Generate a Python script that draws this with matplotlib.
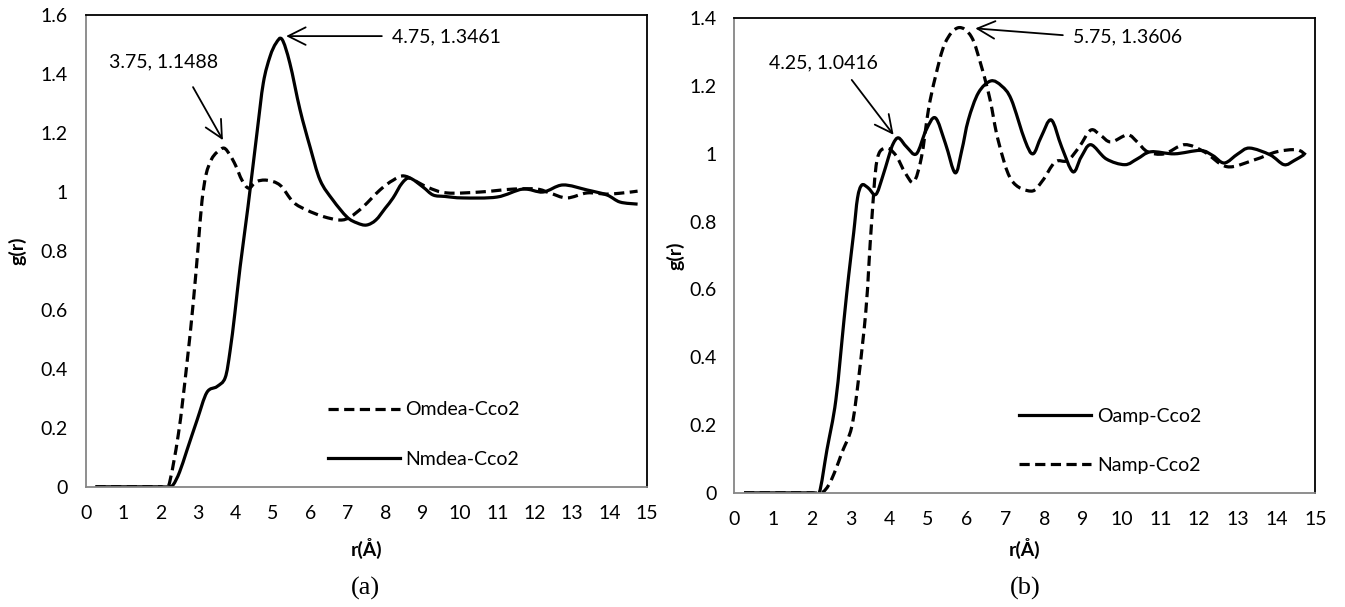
import matplotlib
matplotlib.use("Agg")
import matplotlib.pyplot as plt
import numpy as np
from matplotlib.path import Path
from matplotlib.patches import PathPatch

plt.rcParams['font.family'] = ['Lato', 'DejaVu Sans']
plt.rcParams['font.size'] = 14

# panel (a): MDEA
r_omdea = [0.25, 0.5, 1.0, 1.5, 2.0, 2.2, 2.47, 2.69, 2.87, 3.0, 3.1, 3.21, 3.35, 3.5, 3.69,
           3.85, 4.0, 4.17, 4.35, 4.55, 4.84, 5.19, 5.54, 5.9, 6.34, 6.79, 7.06, 7.41, 7.86,
           8.21, 8.53, 9.12, 9.65, 10.53, 11.42, 12.06, 12.4, 12.86, 13.4, 13.93, 14.36, 14.75]
g_omdea = [0, 0, 0, 0, 0, 0, 0.18, 0.41, 0.63, 0.82, 0.97, 1.06, 1.11, 1.135, 1.149,
           1.125, 1.09, 1.04, 1.013, 1.035, 1.04, 1.023, 0.966, 0.939, 0.917, 0.905, 0.915, 0.95, 1.007,
           1.04, 1.054, 1.017, 0.997, 1.0, 1.01, 1.01, 0.997, 0.98, 0.997, 0.993, 0.997, 1.003]

r_nmdea = [0.25, 0.5, 1.0, 1.5, 2.0, 2.2, 2.33, 2.5, 2.7, 2.97, 3.23, 3.5, 3.72, 3.85, 3.98,
           4.12, 4.33, 4.57, 4.74, 4.92, 5.08, 5.24, 5.45, 5.72, 5.99, 6.26, 6.6, 6.98, 7.25,
           7.5, 7.75, 8.0, 8.21, 8.45, 8.66, 9.01, 9.28, 9.6, 10.08, 10.99, 11.68, 12.22, 12.75,
           13.4, 13.93, 14.28, 14.75]
g_nmdea = [0, 0, 0, 0, 0, 0, 0.007, 0.05, 0.125, 0.227, 0.32, 0.34, 0.37, 0.46, 0.59,
           0.746, 0.95, 1.2, 1.37, 1.46, 1.505, 1.518, 1.437, 1.28, 1.153, 1.04, 0.973, 0.915, 0.895,
           0.888, 0.905, 0.945, 0.98, 1.03, 1.047, 1.017, 0.99, 0.985, 0.98, 0.983, 1.01, 1.0, 1.024,
           1.007, 0.99, 0.966, 0.959]

# panel (b): AMP
r_oamp = [0.25, 1.0, 2.0, 2.19, 2.39, 2.62, 2.83, 2.95, 3.08, 3.18, 3.29, 3.45, 3.65, 3.82,
          3.98, 4.1, 4.24, 4.45, 4.7, 4.95, 5.19, 5.45, 5.7, 5.87, 6.04, 6.3, 6.62, 6.9,
          7.15, 7.5, 7.71, 7.92, 8.18, 8.45, 8.74, 8.95, 9.2, 9.6, 10.08, 10.4, 10.75, 11.36,
          12.03, 12.35, 12.65, 13.0, 13.3, 13.83, 14.19, 14.45, 14.7]
g_oamp = [0, 0, 0, 0, 0.127, 0.274, 0.51, 0.64, 0.767, 0.87, 0.908, 0.9, 0.88, 0.93,
          0.99, 1.03, 1.047, 1.02, 1.0, 1.07, 1.106, 1.03, 0.944, 1.01, 1.1, 1.18, 1.215, 1.2,
          1.16, 1.04, 1.0, 1.05, 1.10, 1.02, 0.947, 0.99, 1.027, 0.985, 0.968, 0.985, 1.006, 1.0,
          1.01, 0.995, 0.973, 1.0, 1.017, 0.997, 0.968, 0.98, 0.997]

r_namp = [0.25, 1.0, 2.0, 2.25, 2.44, 2.62, 2.78, 3.03, 3.21, 3.39, 3.47, 3.55, 3.68, 3.9,
          4.16, 4.41, 4.63, 4.83, 5.01, 5.19, 5.44, 5.78, 6.12, 6.38, 6.6, 6.81, 7.15, 7.66,
          7.95, 8.28, 8.6, 8.9, 9.2, 9.45, 9.72, 10.15, 10.4, 10.67, 11.1, 11.62, 12.13, 12.72,
          13.42, 14.0, 14.52, 14.75]
g_namp = [0, 0, 0, 0, 0.024, 0.07, 0.12, 0.195, 0.34, 0.53, 0.667, 0.81, 0.98, 1.017,
          0.997, 0.944, 0.917, 0.99, 1.13, 1.227, 1.327, 1.372, 1.345, 1.257, 1.16, 1.04, 0.923, 0.89,
          0.92, 0.976, 0.98, 1.02, 1.07, 1.055, 1.035, 1.056, 1.035, 1.006, 1.0, 1.027, 1.006, 0.962,
          0.982, 1.006, 1.012, 0.997]

xticks = list(range(0, 16))

fig = plt.figure(figsize=(13.45, 6.07), dpi=100)
ax1 = fig.add_axes([0.064, 0.198, 0.417, 0.777])
ax2 = fig.add_axes([0.546, 0.188, 0.432, 0.782])

dash = (0, (3.2, 1.7))
lw = 2.3


def smooth_line(ax, x, y, ls, label):
    # Excel-style smoothed line: Catmull-Rom segments drawn as cubic Bezier path
    p = np.column_stack([x, y]).astype(float)
    ext = np.vstack([p[0], p, p[-1]])
    verts = [p[0]]
    codes = [Path.MOVETO]
    for i in range(len(p) - 1):
        p0, p1, p2, p3 = ext[i], ext[i + 1], ext[i + 2], ext[i + 3]
        verts += [p1 + (p2 - p0) / 6, p2 - (p3 - p1) / 6, p2]
        codes += [Path.CURVE4] * 3
    ax.add_patch(PathPatch(Path(verts, codes), fill=False, edgecolor='black', lw=lw,
                           linestyle=ls, joinstyle='round', capstyle='butt'))
    ax.plot([], [], color='black', lw=lw, linestyle=ls, label=label)


def style(ax, ymax):
    ax.set_xlim(0, 15)
    ax.set_ylim(0, ymax)
    ax.set_xticks(xticks)
    yt = [round(0.2 * i, 1) for i in range(int(round(ymax / 0.2)) + 1)]
    ax.set_yticks(yt)
    ax.set_yticklabels([f'{v:g}' for v in yt])
    ax.tick_params(length=0, pad=13, labelsize=14)
    for s in ['left', 'bottom']:
        ax.spines[s].set_color('#868686')
        ax.spines[s].set_linewidth(1.3)
    for s in ['top', 'right']:
        ax.spines[s].set_color('black')
        ax.spines[s].set_linewidth(1.3)
    ax.set_xlabel('r(Å)', fontweight='bold', fontsize=14)
    ax.set_ylabel('g(r)', fontweight='bold', fontsize=14)


arrow = dict(arrowstyle='->, head_length=0.9, head_width=0.45', color='black', lw=1.3,
             shrinkA=0, shrinkB=0)
leg_kw = dict(frameon=False, fontsize=14, handlelength=3.7, handletextpad=0.3,
              labelspacing=1.65, borderpad=0, borderaxespad=0)

# (a)
smooth_line(ax1, r_omdea, g_omdea, dash, 'Omdea-Cco2')
smooth_line(ax1, r_nmdea, g_nmdea, '-', 'Nmdea-Cco2')
style(ax1, 1.6)
ax1.xaxis.set_label_coords(0.5, -0.108)
ax1.yaxis.set_label_coords(-0.107, 0.5)
ax1.legend(loc='center left', bbox_to_anchor=(0.431, 0.111), **leg_kw)

ax1.text(2.06, 1.44, '3.75, 1.1488', ha='center', va='center', fontsize=14)
ax1.annotate('', xy=(3.66, 1.176), xytext=(2.86, 1.356), arrowprops=arrow)
ax1.text(9.63, 1.525, '4.75, 1.3461', ha='center', va='center', fontsize=14)
ax1.annotate('', xy=(5.35, 1.529), xytext=(7.91, 1.529), arrowprops=arrow)

# (b)
smooth_line(ax2, r_oamp, g_oamp, '-', 'Oamp-Cco2')
smooth_line(ax2, r_namp, g_namp, dash, 'Namp-Cco2')
style(ax2, 1.4)
ax2.xaxis.set_label_coords(0.5, -0.095)
ax2.yaxis.set_label_coords(-0.085, 0.5)
ax2.legend(loc='center left', bbox_to_anchor=(0.49, 0.109), **leg_kw)

ax2.text(2.31, 1.268, '4.25, 1.0416', ha='center', va='center', fontsize=14)
ax2.annotate('', xy=(4.11, 1.056), xytext=(3.03, 1.218), arrowprops=arrow)
ax2.text(10.15, 1.345, '5.75, 1.3606', ha='center', va='center', fontsize=14)
ax2.annotate('', xy=(6.22, 1.37), xytext=(8.48, 1.35), arrowprops=arrow)

fig.text(0.272, 0.031, '(a)', ha='center', va='center', fontsize=19, family='Liberation Serif')
fig.text(0.762, 0.031, '(b)', ha='center', va='center', fontsize=19, family='Liberation Serif')

fig.savefig('out.png', dpi=100)
